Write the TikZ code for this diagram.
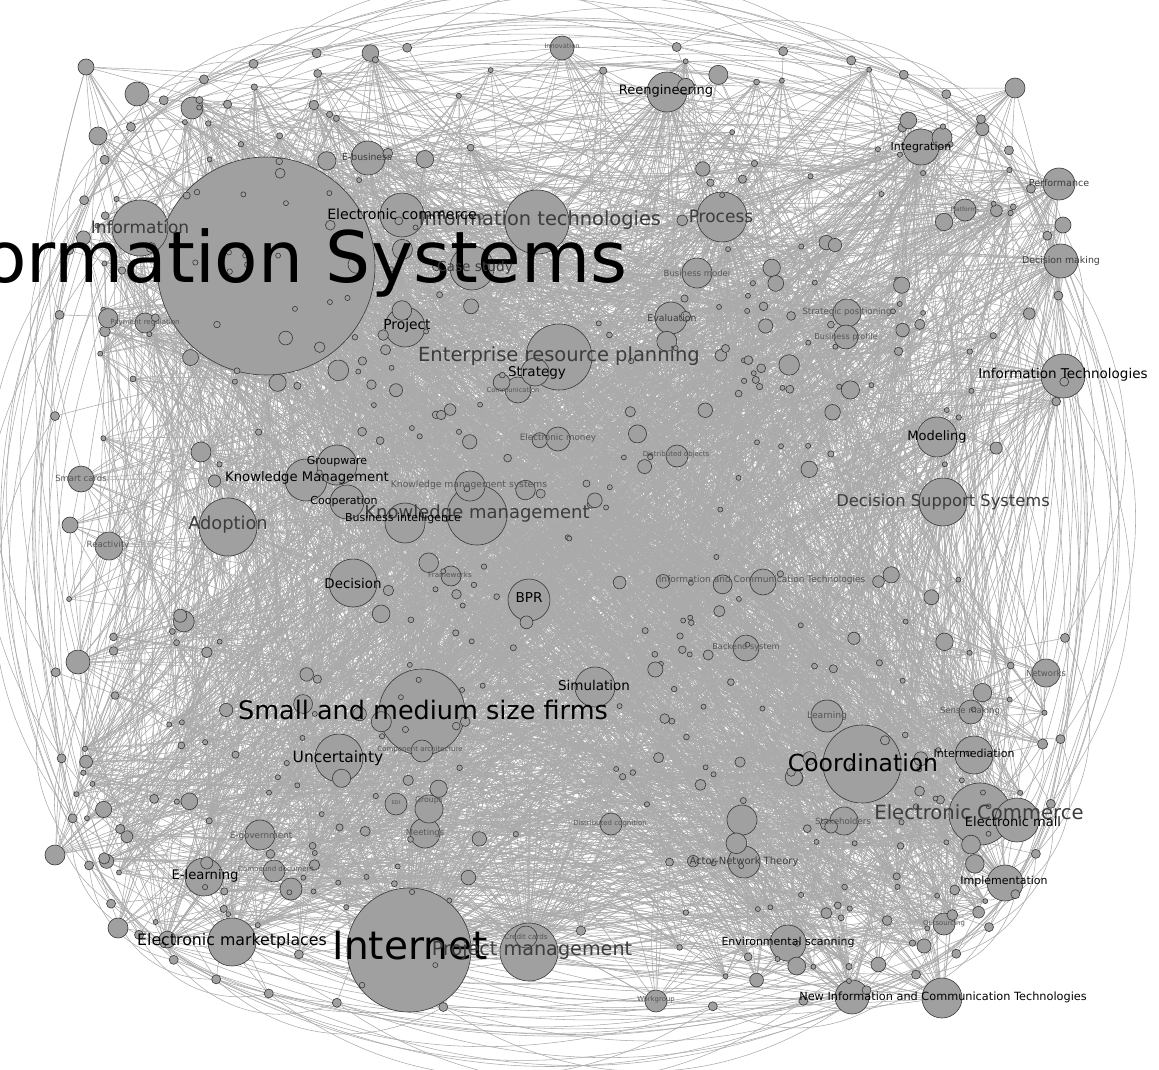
\documentclass[tikz,border=0pt]{standalone}
\usepackage{fontspec}
\setmainfont{DejaVu Sans}
\pgfdeclarelayer{bgw}
\pgfdeclarelayer{edges}
\pgfsetlayers{bgw,edges,main}
\newcommand\fsz[1]{\fontsize{#1}{#1}\selectfont}
\definecolor{nodefill}{RGB}{160,160,160}
\definecolor{nodeline}{RGB}{55,55,55}
\definecolor{edgecol}{RGB}{170,170,170}
\definecolor{labdark}{RGB}{60,60,60}
\definecolor{labtiny}{RGB}{85,85,85}
\begin{document}
\begin{tikzpicture}[x=1pt,y=-1pt,
  hub/.style={circle,fill=nodefill,draw=nodeline,line width=0.6pt,inner sep=0pt},
  lbl/.style={inner sep=0pt,text=black},
  lbg/.style={inner sep=0pt,text=labdark},
  tiny/.style={inner sep=0pt,text=labtiny},
  edge/.style={draw=edgecol,line width=0.55pt}]
\begin{pgfonlayer}{bgw}
\fill[white] (0,0) rectangle (1159,1070);
\end{pgfonlayer}
\useasboundingbox (0,0) rectangle (1159,1070);
% ---------- major nodes ----------
\foreach \n/\nx/\ny/\r in {
1/266/266/109, 2/409/950/62, 3/422/712/43, 4/862/764/39, 5/559/357/33,
6/537/222/32, 7/140/228/28, 8/477/515/30, 9/228/527/29, 10/529/952/29,
11/980/814/31, 12/1017/820/22, 13/943/502/24, 14/722/217/25, 15/667/92/20,
16/921/147/18, 17/1059/184/16, 18/1061/261/17, 19/1063/376/22, 20/937/437/20,
21/306/480/21, 22/337/465/20, 23/347/502/17, 24/405/523/20, 25/470/486/15,
26/353/583/24, 27/529/600/21, 28/595/687/20, 29/339/758/24, 30/974/755/19,
31/1005/883/18, 32/788/943/18, 33/852/997/17, 34/942/998/20, 35/204/877/19,
36/232/942/24, 37/405/327/20, 38/472/268/22, 39/402/215/22, 40/368/158/17,
41/671/318/16, 42/697/273/15, 43/562/48/12, 44/847/313/14, 45/846/337/12,
46/965/210/11, 47/1046/673/14, 48/971/712/12, 49/827/716/16, 50/844/821/14,
51/744/862/16, 52/944/924/11, 53/81/479/13, 54/109/546/14, 55/558/439/12,
56/763/582/13, 57/746/648/13, 58/677/456/11, 59/451/576/10, 60/518/390/13,
61/535/372/14, 62/422/751/11, 63/611/824/11, 64/425/833/15, 65/429/809/14,
66/396/804/11, 67/260/835/15, 68/274/871/11, 69/291/889/11, 70/526/937/11,
71/656/1001/11, 72/145/323/10, 73/86/67/8, 74/137/94/12, 75/192/108/11,
76/98/136/9, 77/201/452/10, 78/78/662/12, 79/70/525/8, 80/55/855/10,
81/118/928/10, 82/1015/88/10, 83/1063/225/8, 84/742/820/15}
{\node[hub,minimum size={2*\r*1pt}] (v\n) at (\nx,\ny) {};}
% ---------- small nodes ----------
\pgfmathsetseed{4242}
\foreach \i in {85,...,530} {
  \pgfmathsetmacro\tA{rnd*360}
  \pgfmathsetmacro\rA{sqrt(rnd)}
  \pgfmathsetmacro\cA{cos(\tA)}
  \pgfmathsetmacro\sA{sin(\tA)}
  \pgfmathsetmacro\px{560+500*\rA*ifthenelse(\cA<0,-1,1)*(abs(\cA)+0.001)^0.5}
  \pgfmathsetmacro\py{527+478*\rA*ifthenelse(\sA<0,-1,1)*(abs(\sA)+0.001)^0.5}
  \pgfmathsetmacro\rr{2.5+8*rnd^4}
  \node[hub,minimum size={2*\rr*1pt}] (v\i) at (\px,\py) {};
}
% ---------- ring nodes ----------
\foreach \i in {1,...,44} {
  \pgfmathsetmacro\tA{\i*360/44+3}
  \pgfmathsetmacro\cA{cos(\tA)}
  \pgfmathsetmacro\sA{sin(\tA)}
  \pgfmathsetmacro\px{560+505*ifthenelse(\cA<0,-1,1)*(abs(\cA)+0.001)^0.5}
  \pgfmathsetmacro\py{527+480*ifthenelse(\sA<0,-1,1)*(abs(\sA)+0.001)^0.5}
  \node[hub,minimum size=9pt] (q\i) at (\px,\py) {};
}
% ---------- edges ----------
\begin{pgfonlayer}{edges}
\foreach \i in {1,...,2800} {
  \pgfmathrandominteger{\a}{1}{530}
  \pgfmathrandominteger{\o}{1}{529}
  \pgfmathtruncatemacro\b{mod(\a+\o-1,530)+1}
  \pgfmathrandominteger{\bb}{-20}{20}
  \draw[edge] (v\a) to[bend left=\bb] (v\b);
}
\foreach \h/\cnt in {1/180,2/110,3/90,4/80,5/60,6/60,7/45,8/50,9/45,10/45,
  11/50,12/35,13/40,14/40,15/35,16/30,17/25,18/25,19/35,20/30,
  21/18,22/18,23/18,24/18,25/18,26/18,27/18,28/18,29/18,30/18,
  31/18,32/18,33/18,34/18,35/18,36/18,37/18,38/18,39/18,40/18} {
  \foreach \j in {1,...,\cnt} {
    \pgfmathrandominteger{\o}{1}{529}
    \pgfmathtruncatemacro\b{mod(\h+\o-1,530)+1}
    \pgfmathrandominteger{\bb}{-18}{18}
    \draw[edge] (v\h) to[bend left=\bb] (v\b);
  }
}
\foreach \i in {1,...,44} {
  \pgfmathtruncatemacro\j{mod(\i+2,44)+1}
  \pgfmathtruncatemacro\jj{mod(\i+5,44)+1}
  \pgfmathtruncatemacro\jjj{mod(\i+8,44)+1}
  \pgfmathrandominteger{\a}{1}{530}
  \draw[edge] (q\i) to[bend left=35] (q\j);
  \draw[edge] (q\i) to[bend left=25] (q\jj);
  \draw[edge] (q\i) to[bend left=20] (q\jjj);
  \draw[edge] (q\i) to[bend left=10] (v\a);
}
\end{pgfonlayer}
% ---------- labels ----------
\node[lbl,anchor=base,font=\fsz{71}] (L1) at (260,282) {Information Systems};
\node[lbl,anchor=base,font=\fsz{39}] (L2) at (410,959) {Internet};
\node[lbl,font=\fsz{25.5}] (L3) at (423,710) {Small and medium size firms};
\node[lbl,font=\fsz{23.5}] (L4) at (863,763) {Coordination};
\node[lbg,font=\fsz{19.5}] (L5) at (559,356) {Enterprise resource planning};
\node[lbg,font=\fsz{19.4}] (L6) at (540,220) {Information technologies};
\node[lbg,font=\fsz{17}] (L7) at (140,227) {Information};
\node[lbg,font=\fsz{18}] (L8) at (477,514) {Knowledge management};
\node[lbg,font=\fsz{17.8}] (L9) at (228,525) {Adoption};
\node[lbg,font=\fsz{19.2}] (L10) at (532,950) {Project management};
\node[lbg,font=\fsz{19.6}] (L11) at (979,812) {Electronic Commerce};
\node[lbl,font=\fsz{13}] (L12) at (1013,822) {Electronic mail};
\node[lbg,font=\fsz{16.3}] (L13) at (943,502) {Decision Support Systems};
\node[lbg,font=\fsz{17}] (L14) at (721,216) {Process};
\node[lbl,font=\fsz{13}] (L15) at (666,91) {Reengineering};
\node[lbl,font=\fsz{11}] (L16) at (921,147) {Integration};
\node[lbg,font=\fsz{9.5}] (L17) at (1059,183) {Performance};
\node[lbg,font=\fsz{9.4}] (L18) at (1061,261) {Decision making};
\node[lbl,font=\fsz{13.5}] (L19) at (1063,375) {Information Technologies};
\node[lbl,font=\fsz{13}] (L20) at (937,437) {Modeling};
\node[lbl,font=\fsz{13.2}] (L21) at (307,478) {Knowledge Management};
\node[lbl,font=\fsz{11}] (L22) at (337,462) {Groupware};
\node[lbl,font=\fsz{11}] (L23) at (344,501) {Cooperation};
\node[lbl,font=\fsz{11}] (L24) at (403,518) {Business intelligence};
\node[tiny,font=\fsz{9.2}] (L25) at (469,485) {Knowledge management systems};
\node[lbl,font=\fsz{13.4}] (L26) at (353,583) {Decision};
\node[lbl,font=\fsz{13.6}] (L27) at (529,598) {BPR};
\node[lbl,font=\fsz{13.5}] (L28) at (594,685) {Simulation};
\node[lbl,font=\fsz{15.5}] (L29) at (338,758) {Uncertainty};
\node[lbl,font=\fsz{11}] (L30) at (974,753) {Intermediation};
\node[lbl,font=\fsz{11}] (L31) at (1004,881) {Implementation};
\node[lbl,font=\fsz{11}] (L32) at (788,942) {Environmental scanning};
\node[lbl,font=\fsz{11.3}] (L33) at (943,997) {New Information and Communication Technologies};
\node[lbl,font=\fsz{13.2}] (L35) at (205,876) {E-learning};
\node[lbl,font=\fsz{15.8}] (L36) at (232,941) {Electronic marketplaces};
\node[lbl,font=\fsz{13.8}] (L37) at (407,326) {Project};
\node[lbg,font=\fsz{13.7}] (L38) at (475,268) {Case study};
\node[lbl,font=\fsz{14.2}] (L39) at (402,214) {Electronic commerce};
\node[lbg,font=\fsz{9.3}] (L40) at (367,157) {E-business};
\node[lbg,font=\fsz{9.3}] (L41) at (672,318) {Evaluation};
\node[tiny,font=\fsz{8.5}] (L42) at (697,273) {Business model};
\node[tiny,font=\fsz{6.6}] (L43) at (562,46) {Innovation};
\node[tiny,font=\fsz{8.6}] (L44) at (847,312) {Strategic positioning};
\node[tiny,font=\fsz{8}] (L45) at (846,337) {Business profile};
\node[tiny,font=\fsz{6}] (L46) at (965,209) {Platforms};
\node[tiny,font=\fsz{8.5}] (L47) at (1046,673) {Networks};
\node[tiny,font=\fsz{8.5}] (L48) at (970,711) {Sense making};
\node[tiny,font=\fsz{9.2}] (L49) at (827,716) {Learning};
\node[tiny,font=\fsz{8.6}] (L50) at (843,821) {Stakeholders};
\node[lbg,font=\fsz{10}] (L51) at (744,862) {Actor-Network Theory};
\node[tiny,font=\fsz{6.9}] (L52) at (944,924) {Outsourcing};
\node[tiny,font=\fsz{8.5}] (L53) at (81,478) {Smart cards};
\node[tiny,font=\fsz{8.6}] (L54) at (108,545) {Reactivity};
\node[tiny,font=\fsz{8.8}] (L55) at (558,438) {Electronic money};
\node[tiny,font=\fsz{9}] (L56) at (762,580) {Information and Communication Technologies};
\node[tiny,font=\fsz{8.2}] (L57) at (746,647) {Backend system};
\node[tiny,font=\fsz{7}] (L58) at (676,455) {Distributed objects};
\node[tiny,font=\fsz{7.2}] (L59) at (450,575) {Frameworks};
\node[tiny,font=\fsz{6.7}] (L60) at (513,390) {Communication};
\node[lbl,font=\fsz{13.5}] (L61) at (537,373) {Strategy};
\node[tiny,font=\fsz{7}] (L62) at (420,750) {Component architecture};
\node[tiny,font=\fsz{7}] (L63) at (610,824) {Distributed cognition};
\node[tiny,font=\fsz{8.4}] (L64) at (425,833) {Meetings};
\node[tiny,font=\fsz{7.8}] (L65) at (429,800) {Groups};
\node[tiny,font=\fsz{5}] (L66) at (396,803) {EDI};
\node[tiny,font=\fsz{8.8}] (L67) at (261,836) {E-government};
\node[tiny,font=\fsz{7}] (L68) at (276,870) {Compound document};
\node[tiny,font=\fsz{7.2}] (L70) at (526,937) {Credit cards};
\node[tiny,font=\fsz{6.9}] (L71) at (656,1000) {Workgroup};
\node[tiny,font=\fsz{7.1}] (L72) at (145,323) {Payment regulation};
\end{tikzpicture}
\end{document}
